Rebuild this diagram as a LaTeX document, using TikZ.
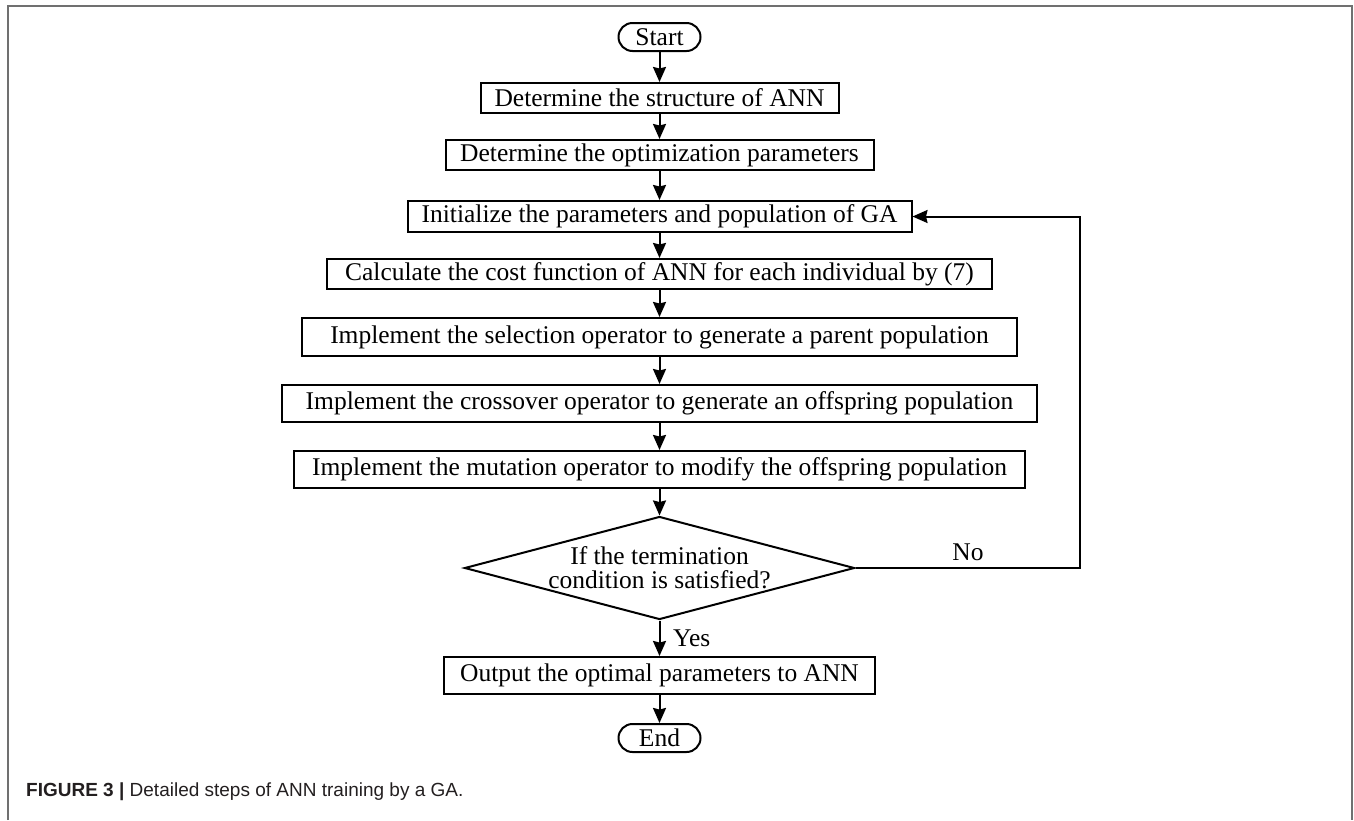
\documentclass[tikz,border=0pt]{standalone}
\usepackage{fontspec}
\setmainfont{Liberation Serif}
\newfontfamily\capfont{Liberation Sans}
\usetikzlibrary{arrows.meta, shapes.geometric, positioning}
\definecolor{FrameG}{HTML}{707070}
\definecolor{CapK} {HTML}{231F20}
\newcommand{\flowfont}{\fontsize{25.5}{24}\selectfont}
\tikzset{
  stp/.style args={#1/#2}{
    rectangle, draw=black, line width=2pt,
    font=\flowfont, align=center,
    inner sep=0pt, minimum width=#1pt, minimum height=#2pt,
  },
  ovl/.style={
    rectangle, rounded corners=14pt, draw=black, line width=2pt,
    font=\flowfont, inner sep=0pt,
    minimum width=82pt, minimum height=28pt,
  },
  dcs/.style={
    diamond, draw=black, line width=2pt,
    font=\flowfont, align=center, inner sep=-8pt, aspect=3.79,
    minimum width=390pt, minimum height=103pt,
  },
  arr/.style={
    -{Stealth[length=15pt,width=13pt,inset=1.5pt]},
    line width=2pt, color=black,
  },
  lbl/.style={font=\flowfont, inner sep=0pt},
  frm/.style={draw=FrameG, line width=2.2pt},
}
\begin{document}
\begin{tikzpicture}[x=1pt,y=-1pt]
  \useasboundingbox (0,0) rectangle (1354,820);
  \draw[frm] (8,820) -- (8,6) -- (1352,6) -- (1352,820);
  % main column
  \node[ovl] (start) at (659.5,37) {Start};
  \node[stp=358/30] (struct) at (659.5,98)    {Determine the structure of ANN};
  \node[stp=428/30] (optp)   at (659.5,155)   {Determine the optimization parameters};
  \node[stp=504/31] (init)   at (659.5,216.5) {Initialize the parameters and population of GA};
  \node[stp=665/30] (cost)   at (659.5,274)   {Calculate the cost function of ANN for each individual by (7)};
  \node[stp=715/38] (sel)    at (659.5,337)   {Implement the selection operator to generate a parent population};
  \node[stp=755/37] (cross)  at (659.5,403.5) {Implement the crossover operator to generate an offspring population};
  \node[stp=731/37] (mut)    at (659.5,469.5) {Implement the mutation operator to modify the offspring population};
  \node[dcs] (term) at (659.5,568) {If the termination\\condition is satisfied?};
  \node[stp=431/37] (outp)   at (659.5,675.5) {Output the optimal parameters to ANN};
  \node[ovl] (stop) at (659.5,738) {End};
  \draw[arr](start)--(struct); \draw[arr](struct)--(optp); \draw[arr](optp)--(init);
  \draw[arr](init)--(cost); \draw[arr](cost)--(sel); \draw[arr](sel)--(cross);
  \draw[arr](cross)--(mut); \draw[arr](mut)--(term);
  \draw[arr](term)--(outp); \draw[arr](outp)--(stop);
  % loop back
  \coordinate (back) at (1080,568);
  \draw[arr](term.east)--(back)|-(init.east);
  \node[lbl] (no)  at (968,552) {No};
  \node[lbl, anchor=west] (yes) at (673,638) {Yes};
  % caption
  \node[anchor=west, inner sep=0pt, text=CapK, font=\capfont\fontsize{19}{21}\selectfont] (cap) at (26,792)
    {\textbf{FIGURE 3 |} Detailed steps of ANN training by a GA.};
\end{tikzpicture}
\end{document}
